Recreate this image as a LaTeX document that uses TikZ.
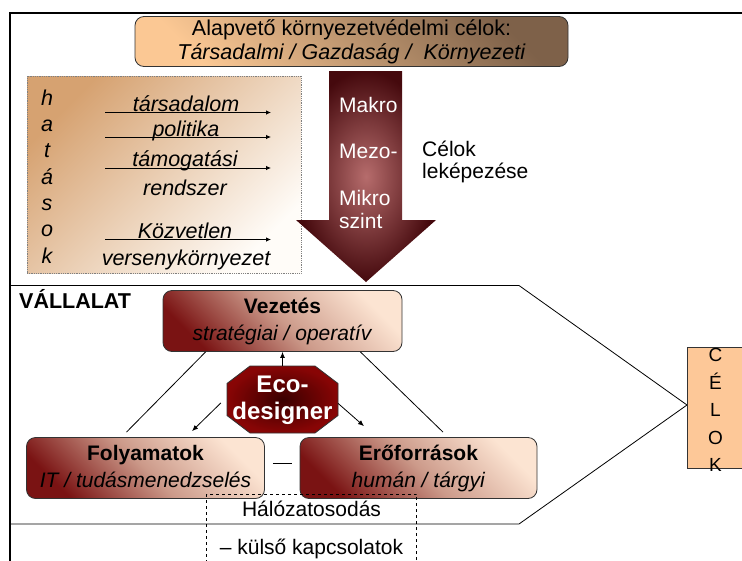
\documentclass[tikz,border=0pt]{standalone}
\usepackage{fontspec}
\setmainfont{Liberation Sans}
\usetikzlibrary{arrows.meta,calc}

\definecolor{goalDark}{HTML}{7E6149}
\definecolor{goalLight}{HTML}{FBC894}
\definecolor{impactDark}{HTML}{D6A271}
\definecolor{impactLight}{HTML}{FFFCF8}
\definecolor{arrowIn}{HTML}{B66C6C}
\definecolor{arrowOut}{HTML}{45090D}
\definecolor{boxDark}{HTML}{7A1313}
\definecolor{boxMid}{HTML}{CC9A8A}
\definecolor{boxLight}{HTML}{FCE4D2}
\definecolor{ecoIn}{HTML}{3A0000}
\definecolor{ecoOut}{HTML}{880505}
\definecolor{sideFill}{HTML}{FDC898}
\definecolor{edge}{HTML}{333333}

% struts keep two-line box texts vertically consistent
\newcommand\upstrut{\rule{0pt}{16pt}}
\newcommand\downstrut{\rule[-4.5pt]{0pt}{4.5pt}}

\begin{document}
\begin{tikzpicture}[x=1pt,y=-1pt,
  every node/.style={inner sep=0pt, font=\fontsize{21}{25}\selectfont},
  conn/.style={line width=0.8pt},
  tip/.style={conn,-{Latex[length=6pt,width=5pt]}},
  smalltip/.style={conn,-{Latex[length=5pt,width=4.5pt]}},
  roundbox/.style={draw=edge, line width=0.8pt, rounded corners=9pt, align=center},
  unitbox/.style={roundbox, top color=boxLight, bottom color=boxDark, middle color=boxMid,
    shading angle=-45, minimum height=61pt, font=\fontsize{21}{26.6}\selectfont},
  itlab/.style={font=\fontsize{21.5}{25}\selectfont\itshape},
  whitelab/.style={text=white, anchor=base west, font=\fontsize{21}{25}\selectfont},
]
\useasboundingbox (0,0) rectangle (742,560);

% outer frame (open to the right and bottom)
\draw[line width=2pt] (10,565) -- (10,13) -- (750,13);

% basic environmental goals
\node[roundbox, top color=goalDark, bottom color=goalLight, shading angle=-45,
      minimum width=433pt, minimum height=50pt, font=\fontsize{21.5}{24}\selectfont]
  (goals) at (351.5,41.5)
  {Alapvető környezetvédelmi célok:\\\textit{Társadalmi / Gazdaság /\ \ Környezeti}};

% impacts panel
\node[draw=gray, densely dotted, line width=0.8pt, top color=impactDark,
      bottom color=impactLight, shading angle=45,
      minimum width=274pt, minimum height=197pt] (impacts) at (164,174.5) {};
\node[font=\fontsize{21.5}{26.3}\selectfont\itshape, align=center] (hat) at (47,176.5)
  {h\\a\\t\\á\\s\\o\\k};

\node[itlab, anchor=base] (l1) at (186,111.5) {társadalom};
\node[itlab, anchor=base] (l2) at (186,136.5) {politika};
\node[itlab, anchor=base] (l3) at (185,166.7) {támogatási};
\node[itlab, anchor=base] (l4) at (185,195) {rendszer};
\node[itlab, anchor=base] (l5) at (185,238.3) {Közvetlen};
\node[itlab, anchor=base] (l6) at (186,265) {versenykörnyezet};

\coordinate (a1s) at (105,112.5); \coordinate (a1e) at (271,112.5);
\coordinate (a2s) at (105,137);   \coordinate (a2e) at (271,137);
\coordinate (a3s) at (105,168);   \coordinate (a3e) at (271,168);
\coordinate (a4s) at (105,239.5); \coordinate (a4e) at (271,239.5);
\draw[smalltip] (a1s) -- (a1e);
\draw[smalltip] (a2s) -- (a2e);
\draw[smalltip] (a3s) -- (a3e);
\draw[smalltip] (a4s) -- (a4e);

% cascading arrow of goal levels
\shade[inner color=arrowIn, outer color=arrowOut]
  (329,71) -- (402,71) -- (402,220) -- (436,220) -- (366,282)
  -- (296,220) -- (329,220) -- cycle;
\node[whitelab] (makro) at (339,112.5) {Makro};
\node[whitelab] (mezo) at (339,158) {Mezo-};
\node[whitelab] (mikro) at (339,205) {Mikro};
\node[whitelab] (szint) at (339,228.5) {szint};

\node[anchor=base west] (cel1) at (422,156.7) {Célok};
\node[anchor=base west] (cel2) at (422,178) {leképezése};

% company outline pointing to the goals
\draw[conn] (11,285.5) -- (519,285.5) -- (687,405) -- (519,524) -- (11,524);
\node[anchor=base west, font=\fontsize{21.5}{25}\selectfont\bfseries] (company) at (19,308)
  {VÁLLALAT};

\node[draw=edge, line width=0.8pt, fill=sideFill, minimum width=58pt, minimum height=121pt]
  (sidebox) at (716,407.5) {};
\node[align=center, font=\fontsize{19}{27.5}\selectfont] (celok) at (715.5,410)
  {C\\É\\L\\O\\K};

% management, processes, resources
\node[unitbox, minimum width=239pt] (lead) at (282.5,321)
  {\upstrut\textbf{Vezetés}\\\textit{stratégiai / operatív}\downstrut};
\node[unitbox, minimum width=238pt] (proc) at (145.5,468)
  {\upstrut\textbf{Folyamatok}\\\textit{IT / tudásmenedzselés}\downstrut};
\node[unitbox, minimum width=237pt] (res) at (418.5,468)
  {\upstrut\textbf{Erőforrások}\\\textit{humán / tárgyi}\downstrut};

% eco-designer octagon
\begin{scope}[shift={(282.5,399.5)}]
  \shade[inner color=ecoIn, outer color=ecoOut, draw=edge, line width=0.8pt]
    (-32.5,-33.5) -- (32.5,-33.5) -- (55.5,-16) -- (55.5,16) -- (32.5,33.5)
    -- (-32.5,33.5) -- (-55.5,16) -- (-55.5,-16) -- cycle;
\end{scope}
\node[minimum width=111pt, minimum height=67pt, align=center, text=white,
      font=\fontsize{24}{26.7}\selectfont\bfseries] (eco) at (282.5,400)
  {Eco-\\designer};

% connectors
\draw[tip] (eco.north) -- (lead.south);
\draw[conn] ($(lead.south west)+(43,0)$) -- ($(proc.north)+(-19,-5)$);
\draw[conn] ($(lead.south east)+(-42,0)$) -- ($(res.north)+(24.5,-5)$);
\draw[tip] ($(eco.west)+(-6,3)$) -- ($(proc.north)+(46.5,-6)$);
\draw[tip] ($(eco.east)+(0,3.5)$) -- ($(res.north)+(-54.5,-11)$);
\draw[conn] ($(proc.east)+(8,-5)$) -- ($(res.west)+(-8,-5)$);

% networking box
\node[draw, dashed, line width=0.8pt, minimum width=210pt, minimum height=72pt,
      align=center, font=\fontsize{21}{38.4}\selectfont] (net) at (311.5,530)
  {Hálózatosodás\\– külső kapcsolatok};
\end{tikzpicture}
\end{document}
